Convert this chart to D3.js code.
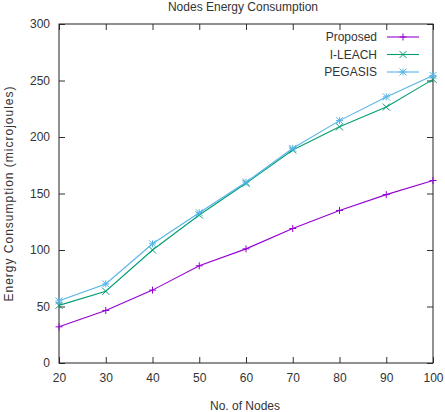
<!DOCTYPE html>
<html><head><meta charset="utf-8">
<script src="https://cdn.jsdelivr.net/npm/d3@7/dist/d3.min.js"></script>
<style>body{margin:0;background:#fff}svg{display:block}text{font-family:"Liberation Sans",Arial,sans-serif;fill:#333}</style>
</head><body>
<script>
const nodes = [20,30,40,50,60,70,80,90,100];
const proposed = [32,46.5,64.5,86,101,119,135,149,161.5];
const ileach = [51,63.5,100,131,159,188.5,209,226.5,251];
const pegasis = [55,70,105.5,133,160,190,214.5,235.5,254.5];
const seriesNames = ["Proposed","I-LEACH","PEGASIS"];
const seriesColors = ["#9400d3","#009e73","#56b4e9"];
const xTicks = [20,30,40,50,60,70,80,90,100];
const yTicks = [0,50,100,150,200,250,300];

const W=445,H=412;
const m={l:59,r:12,t:24,b:49};
const svg=d3.select("body").append("svg").attr("width",W).attr("height",H);
const x=d3.scaleLinear().domain([20,100]).range([m.l,W-m.r]);
const y=d3.scaleLinear().domain([0,300]).range([H-m.b,m.t]);

const g=svg.append("g");
const tl=6;
g.append("g").attr("transform",`translate(0,${y(0)})`).call(d3.axisBottom(x).tickValues(xTicks).tickSize(-tl).tickPadding(10))
  .call(a=>{a.select(".domain").remove();a.selectAll("text").attr("font-size",12).attr("fill","#444");a.selectAll("line").attr("stroke","#333");});
g.append("g").attr("transform",`translate(0,${y(300)})`).call(d3.axisTop(x).tickValues(xTicks).tickSize(-tl).tickFormat(""))
  .call(a=>{a.select(".domain").remove();a.selectAll("line").attr("stroke","#333");});
g.append("g").attr("transform",`translate(${x(20)},0)`).call(d3.axisLeft(y).tickValues(yTicks).tickSize(-tl).tickPadding(9))
  .call(a=>{a.select(".domain").remove();a.selectAll("text").attr("font-size",12).attr("fill","#444");a.selectAll("line").attr("stroke","#333");});
g.append("g").attr("transform",`translate(${x(100)},0)`).call(d3.axisRight(y).tickValues(yTicks).tickSize(-tl).tickFormat(""))
  .call(a=>{a.select(".domain").remove();a.selectAll("line").attr("stroke","#333");});
g.append("rect").attr("x",x(20)).attr("y",y(300)).attr("width",x(100)-x(20)).attr("height",y(0)-y(300))
  .attr("fill","none").attr("stroke","#222").attr("stroke-width",1);

const data=[proposed,ileach,pegasis];
const line=d3.line().x((d,i)=>x(nodes[i])).y(d=>y(d));
function marker(sel,type,cx,cy,color){
  const s=3.5;
  const p=d3.path();
  if(type===0||type===2){p.moveTo(cx-s,cy);p.lineTo(cx+s,cy);p.moveTo(cx,cy-s);p.lineTo(cx,cy+s);}
  if(type===1||type===2){p.moveTo(cx-s,cy-s);p.lineTo(cx+s,cy+s);p.moveTo(cx-s,cy+s);p.lineTo(cx+s,cy-s);}
  sel.append("path").attr("d",p.toString()).attr("stroke",color).attr("stroke-width",1).attr("fill","none");
}
data.forEach((vals,si)=>{
  g.append("path").datum(vals).attr("d",line).attr("fill","none").attr("stroke",seriesColors[si]).attr("stroke-width",1.1);
  vals.forEach((v,i)=>marker(g,si,x(nodes[i]),y(v),seriesColors[si]));
});

seriesNames.forEach((n,i)=>{
  const ly=37+i*17.5;
  g.append("text").attr("x",377).attr("y",ly).attr("dy","0.35em").attr("text-anchor","end").attr("font-size",12).text(n);
  g.append("line").attr("x1",387).attr("x2",419).attr("y1",ly).attr("y2",ly).attr("stroke",seriesColors[i]).attr("stroke-width",1.1);
  marker(g,i,403,ly,seriesColors[i]);
});

svg.append("text").attr("x",243).attr("y",11).attr("text-anchor","middle").attr("font-size",12).text("Nodes Energy Consumption");
svg.append("text").attr("x",245).attr("y",406).attr("dy","0.35em").attr("text-anchor","middle").attr("font-size",12).text("No. of Nodes");
svg.append("text").attr("transform",`translate(9,${(y(0)+y(300))/2}) rotate(-90)`).attr("dy","0.35em").attr("text-anchor","middle")
  .attr("font-size",12).attr("letter-spacing",1).attr("fill","#444").text("Energy Consumption (microjoules)");
</script>
</body></html>
